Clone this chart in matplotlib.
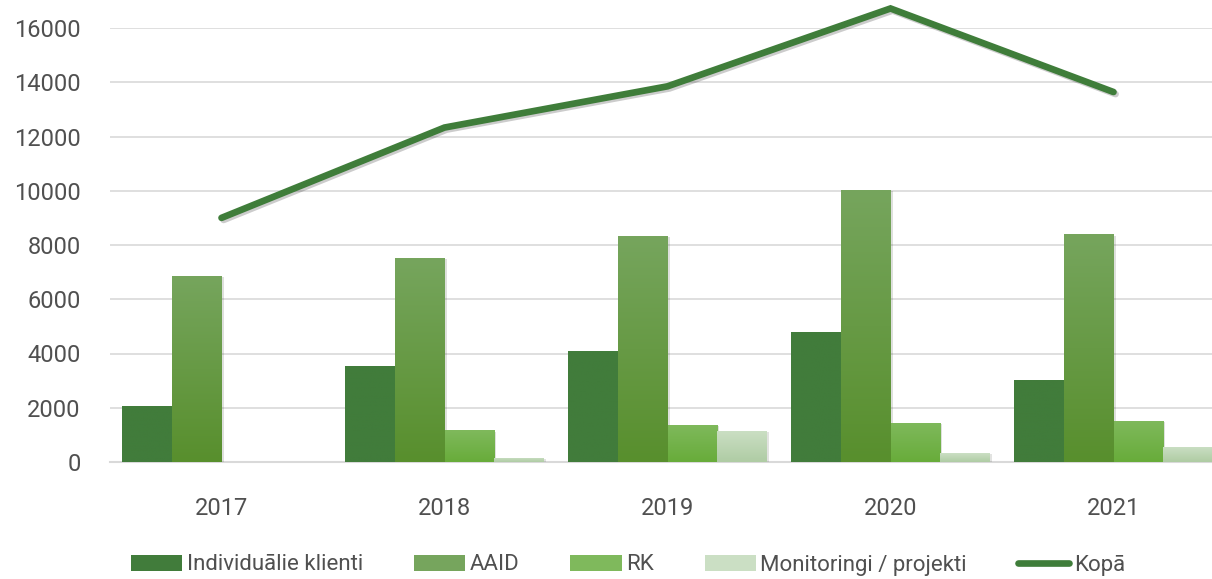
import matplotlib.pyplot as plt
import matplotlib.patheffects as pe
import numpy as np
from matplotlib.colors import LinearSegmentedColormap

plt.rcParams['font.family'] = ['Roboto', 'DejaVu Sans']

years = ["2017", "2018", "2019", "2020", "2021"]
individualie = [2080, 3540, 4090, 4790, 3020]
aaid = [6860, 7520, 8330, 10030, 8400]
rk = [0, 1170, 1380, 1450, 1520]
monitoringi = [0, 150, 1150, 330, 560]
kopa = [9000, 12330, 13850, 16720, 13640]

names = ["Individuālie klienti", "AAID", "RK", "Monitoringi / projekti"]
# top colour, bottom colour for each series
grads = [("#417c3b", "#417c3b"),
         ("#76a55d", "#588f2d"),
         ("#7fb95c", "#68ac3a"),
         ("#cbdfc4", "#afcca4")]
line_color = "#3f7d3a"
txt = "#505050"

fig = plt.figure(figsize=(12.12, 5.79), dpi=100)
ax = fig.add_axes([110 / 1212, 1 - 462 / 579, 1115 / 1212, 434 / 579])

x = np.arange(len(years))
w = 0.222
series = [individualie, aaid, rk, monitoringi]
shadow = [pe.SimplePatchShadow(offset=(1.5, -1), alpha=0.15), pe.Normal()]
for i, vals in enumerate(series):
    pos = x + (i - 1.5) * w
    top, bot = grads[i]
    cmap = LinearSegmentedColormap.from_list("g%d" % i, [bot, top])
    bars = ax.bar(pos, vals, w, color=top, label=names[i], zorder=3,
                  linewidth=0, path_effects=shadow)
    for b, v in zip(bars, vals):
        if v <= 0:
            continue
        grad = np.linspace(0, 1, 100).reshape(-1, 1)
        im = ax.imshow(grad, cmap=cmap, aspect="auto", origin="lower",
                       extent=[b.get_x(), b.get_x() + w, 0, v], zorder=3.1)
        im.set_clip_path(b)

ax.plot(x, kopa, color=line_color, lw=4.8, solid_capstyle="round",
        solid_joinstyle="miter", label="Kopā", zorder=4, clip_on=False,
        path_effects=[pe.SimpleLineShadow(offset=(1.5, -1.5), alpha=0.2), pe.Normal()])

ax.set_xlim(-0.5, 4.5)
ax.set_ylim(0, 16000)
ax.set_yticks(range(0, 16001, 2000))
ax.set_xticks(x)
ax.set_xticklabels(years)
ax.grid(axis="y", color="#d9d9d9", lw=1.2, zorder=0)
for s in ["top", "right", "left"]:
    ax.spines[s].set_visible(False)
ax.spines["bottom"].set_color("#d9d9d9")
ax.spines["bottom"].set_linewidth(1.5)
ax.tick_params(length=0, labelsize=17, colors=txt)
ax.tick_params(axis="y", pad=21)
ax.tick_params(axis="x", pad=25)

handles, labels = ax.get_legend_handles_labels()
order = [1, 2, 3, 4, 0]
leg = fig.legend([handles[k] for k in order], [labels[k] for k in order],
                 loc="center", bbox_to_anchor=(628 / 1212, 1 - 565 / 579), ncol=5,
                 frameon=False, fontsize=16, handlelength=2.3, handleheight=0.75,
                 handletextpad=0.2, columnspacing=2.3, labelcolor=txt)
for h in leg.legend_handles:
    h.set_path_effects([])

fig.savefig("out.png", dpi=100)
